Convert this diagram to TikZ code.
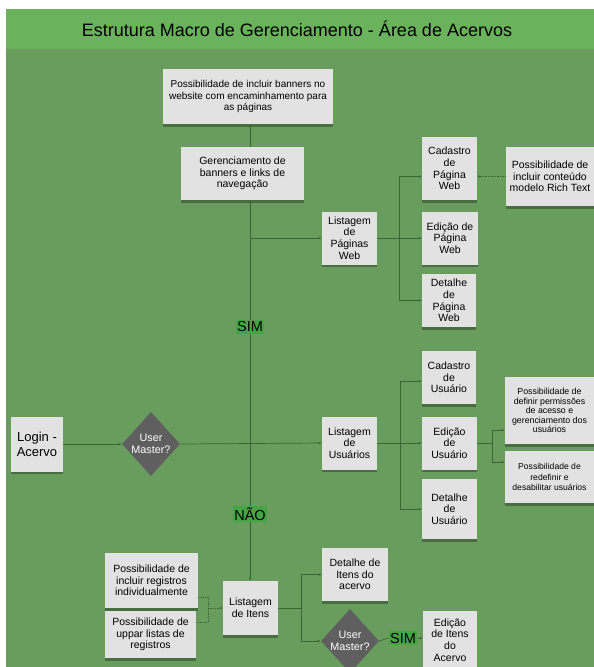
\documentclass[tikz,border=0pt]{standalone}
\usepackage{fontspec}
\setmainfont{Liberation Sans}
\usetikzlibrary{shapes.geometric,shadows,arrows.meta,calc}
\definecolor{bgtitle}{HTML}{6BB25C}
\definecolor{bgmain}{HTML}{699D5E}
\definecolor{boxgray}{HTML}{E2E2E2}
\definecolor{dgray}{HTML}{5F5F5F}
\definecolor{linegreen}{HTML}{3A6534}
\definecolor{labgreen}{HTML}{45A545}
\begin{document}
\begin{tikzpicture}[x=1pt,y=-1pt,
  box/.style={fill=boxgray, align=center, inner sep=1pt,
    font=\fontsize{10.5}{11.7}\selectfont,
    drop shadow={shadow xshift=0pt, shadow yshift=-2.5pt, opacity=0.3, fill=black}},
  dec/.style={diamond, fill=dgray, minimum width=58pt, minimum height=64pt, inner sep=0pt},
  dectext/.style={text=white, align=center, font=\fontsize{10.8}{12.3}\selectfont},
  lab/.style={fill=labgreen, inner sep=1.5pt, font=\fontsize{14.5}{16}\selectfont},
  conn/.style={draw=linegreen, line width=0.7pt},
  arr/.style={conn, -{Latex[length=3pt,width=2.6pt]}},
  dots/.style={conn, densely dotted, -{Latex[length=3pt,width=2.6pt]}}
]
\useasboundingbox (0,0) rectangle (594,667);
\clip (0,0) rectangle (594,667);
\fill[white] (0,0) rectangle (594,667);
\fill[bgmain] (6,9) rectangle (594,667);
\fill[bgtitle] (6,9) rectangle (594,49);
\node[font=\fontsize{18}{20}\selectfont] (title) at (297,29) {Estrutura Macro de Gerenciamento - Área de Acervos};

% top area
\node[box, minimum width=170pt, minimum height=55pt, font=\fontsize{10}{11.5}\selectfont] (ban) at (248,96.5)
  {Possibilidade de incluir banners no\\website com encaminhamento para\\as páginas};
\node[box, minimum width=123pt, minimum height=53pt] (ger) at (242.5,173.5)
  {Gerenciamento de\\banners e links de\\navegação};
\node[box, minimum width=55pt, minimum height=53pt] (lpw) at (349.5,238) {Listagem\\de\\Páginas\\Web};
\node[box, minimum width=55pt, minimum height=63pt] (cpw) at (449.5,168.5) {Cadastro\\de\\Página\\Web};
\node[box, minimum width=56pt, minimum height=53pt] (epw) at (450,238) {Edição de\\Página\\Web};
\node[box, minimum width=54pt, minimum height=53pt] (dpw) at (449,300.5) {Detalhe\\de\\Página\\Web};
\node[box, minimum width=88pt, minimum height=59pt] (rt) at (550,176.5) {Possibilidade de\\incluir conteúdo\\modelo Rich Text};

% middle
\node[box, minimum width=52pt, minimum height=55pt, font=\fontsize{13}{15}\selectfont] (login) at (37,444) {Login -\\Acervo};
\node[dec, label={[dectext]center:User\\Master?}] (dm1) at (151,444) {};
\node[box, minimum width=55pt, minimum height=53pt] (lu) at (349.5,443) {Listagem\\de\\Usuários};
\node[box, minimum width=54pt, minimum height=53pt] (cu) at (449,377.5) {Cadastro\\de\\Usuário};
\node[box, minimum width=55pt, minimum height=53pt] (eu) at (449.5,443) {Edição\\de\\Usuário};
\node[box, minimum width=55pt, minimum height=60pt] (du) at (449.5,509) {Detalhe\\de\\Usuário};
\node[box, minimum width=89pt, minimum height=67pt, font=\fontsize{8.8}{9.4}\selectfont] (pd) at (549.5,410.5)
  {Possibilidade de\\definir permissões\\de acesso e\\gerenciamento dos\\usuários};
\node[box, minimum width=89pt, minimum height=52pt, font=\fontsize{8.6}{10.5}\selectfont] (pr) at (549.5,477)
  {Possibilidade de\\redefinir e\\desabilitar usuários};

% bottom
\node[box, minimum width=93pt, minimum height=55pt] (pir) at (151.5,580.5) {Possibilidade de\\incluir registros\\individualmente};
\node[box, minimum width=91pt, minimum height=47pt] (pup) at (150.5,634.5) {Possibilidade de\\uppar listas de\\registros};
\node[box, minimum width=55pt, minimum height=54pt] (li) at (250.5,608) {Listagem\\de Itens};
\node[box, minimum width=66pt, minimum height=53pt] (dia) at (355,574.5) {Detalhe de\\Itens do\\acervo};
\node[dec, label={[dectext]center:User\\Master?}] (dm2) at (350,641) {};
\node[box, minimum width=54pt, minimum height=58pt] (eia) at (450,640) {Edição\\de Itens\\do\\Acervo};

% labels
\node[lab] (sim1) at (250,327) {SIM};
\node[lab] (nao) at (250,514) {NÃO};
\node[lab] (sim2) at (403,638) {SIM};

% connectors: main spine
\draw[arr] (ger.north -| sim1) -- (ban.south -| sim1);
\draw[arr] (sim1.north) -- (sim1.north |- ger.south);
\draw[arr] (sim1 |- lpw.west) -- (lpw.west);
\draw[conn] (nao.north) -- (sim1.south);
\draw[arr] (nao.south) -- (nao.south |- li.north);
\draw[arr] (login.east) -- (dm1.west);
\draw[arr] (dm1.east) -- (lu.west);

% pages branch
\coordinate (pb) at (399,238);
\draw[conn] (lpw.east) -- (pb);
\draw[arr] (pb) |- (rt.west -| cpw.west);
\draw[arr] (pb) -- (epw.west);
\draw[arr] (pb) |- (dpw.west);
\draw[dots] (rt.west) -- (rt.west -| cpw.east);

% users branch
\coordinate (ubr) at (400,443);
\draw[conn] (lu.east) -- (ubr);
\draw[arr] (ubr) |- ($(cu.west)+(0,3.5)$);
\draw[arr] (ubr) -- (eu.west);
\draw[arr] (ubr) |- (du.west);
\coordinate (ueb) at (492,443);
\draw[conn] (eu.east) -- (ueb);
\draw[arr] (ueb) |- ($(pd.west)+(0,19.5)$);
\draw[arr] (ueb) |- ($(pr.west)+(0,-15)$);

% items branch
\coordinate (ib) at (301,608);
\draw[conn] (li.east) -- (ib);
\draw[arr] (ib) |- (dia.west);
\draw[arr] (ib) |- (dm2.west);
\draw[conn] (dm2.east) -- (sim2.west);
\draw[arr] (sim2.east) -- (sim2.east -| eia.west);
\coordinate (rj) at (208,608);
\draw[conn, densely dotted] ($(pir.east)+(0,16.5)$) -| (rj);
\draw[conn, densely dotted] ($(pup.east)+(0,-12.5)$) -| (rj);
\draw[dots] (rj) -- (li.west);
\end{tikzpicture}
\end{document}
